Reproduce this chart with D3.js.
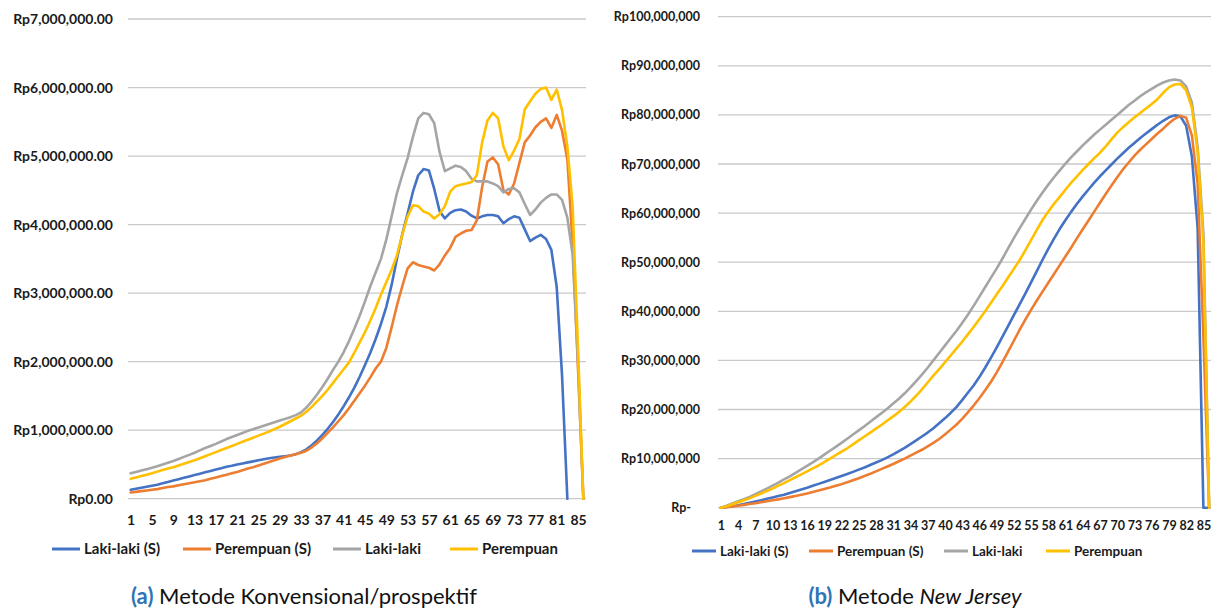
<!DOCTYPE html>
<html>
<head>
<meta charset="utf-8">
<script src="https://cdn.jsdelivr.net/npm/d3@7"></script>
<style>
  body { margin: 0; background: #ffffff; }
  svg text { font-family: Lato, "Noto Sans", sans-serif; }
</style>
</head>
<body>
<svg id="chart" width="1211" height="610"></svg>
<script>
// Usia (tahun ke-) on the category axis
const ages = d3.range(1, 87);

// Series names shown in the legend
const seriesNames = ["Laki-laki (S)", "Perempuan (S)", "Laki-laki", "Perempuan"];

// (a) Metode Konvensional/prospektif — values in millions of rupiah (null = no value)
const konvLakiS = [
  0.13,0.145,0.16,0.175,0.19,0.205,0.225,0.245,0.265,0.285,
  0.305,0.325,0.345,0.365,0.385,0.405,0.425,0.445,0.465,0.48,
  0.50,0.515,0.53,0.545,0.56,0.575,0.59,0.60,0.61,0.62,
  0.63,0.65,0.68,0.72,0.78,0.85,0.93,1.02,1.12,1.23,
  1.35,1.48,1.62,1.78,1.95,2.13,2.33,2.55,2.80,3.12,
  3.50,3.86,4.16,4.48,4.72,4.81,4.79,4.52,4.20,4.09,
  4.17,4.21,4.22,4.19,4.13,4.09,4.12,4.14,4.14,4.12,
  4.02,4.08,4.12,4.10,3.93,3.76,3.81,3.85,3.79,3.63,
  3.09,1.80,0,null,null,null
];
const konvPerempuanS = [
  0.09,0.10,0.11,0.12,0.13,0.14,0.155,0.17,0.18,0.195,
  0.21,0.225,0.24,0.255,0.27,0.29,0.31,0.33,0.35,0.37,
  0.39,0.415,0.44,0.46,0.485,0.51,0.535,0.56,0.585,0.61,
  0.63,0.65,0.67,0.70,0.75,0.81,0.88,0.96,1.04,1.13,
  1.22,1.32,1.43,1.54,1.65,1.77,1.90,2.00,2.20,2.50,
  2.82,3.10,3.36,3.45,3.41,3.39,3.37,3.33,3.42,3.55,
  3.66,3.82,3.87,3.91,3.92,4.06,4.55,4.92,4.98,4.88,
  4.50,4.44,4.60,4.90,5.20,5.30,5.42,5.50,5.55,5.41,
  5.60,5.37,4.95,3.70,1.90,0
];
const konvLaki = [
  0.37,0.39,0.41,0.43,0.45,0.475,0.50,0.525,0.55,0.58,
  0.61,0.64,0.67,0.705,0.74,0.77,0.80,0.835,0.87,0.90,
  0.93,0.96,0.99,1.015,1.04,1.065,1.09,1.115,1.14,1.165,
  1.19,1.22,1.26,1.33,1.42,1.52,1.63,1.75,1.88,2.00,
  2.14,2.30,2.48,2.67,2.88,3.10,3.30,3.50,3.78,4.12,
  4.46,4.72,4.97,5.28,5.55,5.63,5.61,5.48,5.06,4.78,
  4.82,4.86,4.84,4.78,4.67,4.63,4.63,4.63,4.60,4.56,
  4.47,4.52,4.53,4.47,4.30,4.14,4.22,4.32,4.39,4.44,
  4.44,4.36,4.10,3.55,2.00,0
];
const konvPerempuan = [
  0.29,0.31,0.33,0.35,0.37,0.395,0.42,0.44,0.46,0.485,
  0.51,0.535,0.56,0.59,0.62,0.65,0.68,0.71,0.74,0.77,
  0.80,0.83,0.86,0.89,0.92,0.95,0.98,1.015,1.05,1.09,
  1.13,1.17,1.21,1.27,1.34,1.42,1.50,1.59,1.69,1.79,
  1.89,1.99,2.13,2.28,2.43,2.60,2.78,2.98,3.16,3.34,
  3.55,3.85,4.12,4.28,4.27,4.19,4.16,4.09,4.15,4.27,
  4.48,4.56,4.58,4.60,4.62,4.72,5.20,5.52,5.63,5.55,
  5.14,4.94,5.08,5.25,5.68,5.80,5.91,5.98,6.00,5.82,
  5.97,5.67,5.14,4.25,2.20,0
];

// (b) Metode New Jersey — values in millions of rupiah
const njLakiS = [
  0,0.15,0.3,0.5,0.75,1.0,1.25,1.5,1.8,2.1,
  2.4,2.65,3.0,3.35,3.7,4.05,4.45,4.85,5.25,5.65,
  6.05,6.45,6.85,7.3,7.75,8.2,8.7,9.2,9.7,10.25,
  10.85,11.5,12.2,12.95,13.7,14.5,15.3,16.2,17.2,18.2,
  19.3,20.5,21.9,23.4,24.9,26.6,28.5,30.5,32.6,34.8,
  37.0,39.2,41.4,43.6,45.9,48.2,50.5,52.7,54.8,56.8,
  58.6,60.3,61.9,63.4,64.8,66.2,67.5,68.7,69.9,71.1,
  72.2,73.3,74.3,75.3,76.2,77.1,78.0,78.8,79.5,79.9,
  79.7,77.8,71.5,57.0,0,0
];
const njPerempuanS = [
  0,0.12,0.25,0.4,0.57,0.74,0.92,1.1,1.3,1.5,
  1.7,1.92,2.15,2.4,2.65,2.9,3.2,3.5,3.8,4.1,
  4.45,4.8,5.2,5.6,6.0,6.45,6.9,7.4,7.9,8.4,
  8.9,9.45,10.0,10.6,11.2,11.8,12.5,13.2,14.0,14.9,
  15.9,16.9,18.1,19.4,20.8,22.3,23.9,25.6,27.5,29.6,
  31.8,34.0,36.2,38.3,40.3,42.2,44.0,45.8,47.6,49.4,
  51.2,53.0,54.9,56.7,58.5,60.3,62.1,63.9,65.6,67.3,
  68.9,70.3,71.7,72.9,74.0,75.1,76.2,77.2,78.3,79.2,
  79.8,79.4,75.8,66.0,35.0,0
];
const njLaki = [
  0,0.4,0.85,1.3,1.75,2.2,2.75,3.3,3.9,4.5,
  5.1,5.75,6.4,7.1,7.8,8.5,9.25,10.0,10.8,11.6,
  12.4,13.2,14.05,14.9,15.75,16.6,17.5,18.4,19.3,20.2,
  21.2,22.2,23.3,24.5,25.8,27.1,28.5,30.0,31.5,33.0,
  34.5,36.0,37.6,39.3,41.1,43.0,44.9,46.8,48.7,50.7,
  52.8,54.9,56.9,58.8,60.7,62.5,64.2,65.8,67.3,68.7,
  70.1,71.4,72.6,73.8,74.9,76.0,77.0,78.0,79.0,80.0,
  81.0,82.0,82.9,83.8,84.6,85.3,86.0,86.6,87.0,87.2,
  87.0,85.8,82.5,73.5,56.0,0
];
const njPerempuan = [
  0,0.3,0.7,1.1,1.5,1.9,2.4,2.9,3.4,3.9,
  4.5,5.0,5.6,6.2,6.8,7.4,8.0,8.6,9.3,10.0,
  10.7,11.4,12.1,12.9,13.7,14.5,15.3,16.1,16.9,17.75,
  18.6,19.5,20.5,21.6,22.8,24.1,25.5,26.9,28.2,29.6,
  31.0,32.4,33.8,35.3,36.8,38.4,40.0,41.7,43.4,45.1,
  46.9,48.6,50.4,52.4,54.5,56.6,58.6,60.3,61.9,63.3,
  64.8,66.2,67.5,68.8,70.0,71.2,72.3,73.6,75.0,76.4,
  77.5,78.5,79.5,80.4,81.3,82.2,83.2,84.5,85.6,86.2,
  86.3,85.0,81.5,72.5,54.0,0
];

// Axis tick values
const konvTicksY = [0, 1, 2, 3, 4, 5, 6, 7];
const konvTicksX = [1, 5, 9, 13, 17, 21, 25, 29, 33, 37, 41, 45, 49, 53, 57, 61, 65, 69, 73, 77, 81, 85];
const njTicksY = [0, 10, 20, 30, 40, 50, 60, 70, 80, 90, 100];
const njTicksX = [1, 4, 7, 10, 13, 16, 19, 22, 25, 28, 31, 34, 37, 40, 43, 46, 49, 52, 55, 58, 61, 64, 67, 70, 73, 76, 79, 82, 85];

const colors = ["#4472C4", "#ED7D31", "#A5A5A5", "#FFC000"];

const svg = d3.select("#chart");

function drawPanel(cfg) {
  const g = svg.append("g");
  const x = d3.scalePoint().domain(ages).range([cfg.left, cfg.right]).padding(0.5);
  const y = d3.scaleLinear().domain([0, cfg.yMax]).range([cfg.bottom, cfg.top]);

  // horizontal gridlines (the zero line doubles as the category axis)
  g.append("g").selectAll("line").data(cfg.yTicks).join("line")
    .attr("x1", cfg.left).attr("x2", cfg.right)
    .attr("y1", d => y(d)).attr("y2", d => y(d))
    .attr("stroke", "#c9c9c9").attr("stroke-width", 1.3);

  // value axis
  const ya = g.append("g").attr("transform", `translate(${cfg.left},0)`)
    .call(d3.axisLeft(y).tickValues(cfg.yTicks).tickFormat(cfg.yFormat)
      .tickSize(0).tickPadding(cfg.yPad));
  ya.select(".domain").remove();
  ya.selectAll("text")
    .attr("font-family", "Lato, sans-serif").attr("font-weight", "700")
    .attr("font-size", cfg.yFont).attr("fill", "#1a1a1a");
  if (cfg.zeroDx) ya.selectAll("text").filter(d => d === 0).attr("dx", cfg.zeroDx);

  // category axis
  const xa = g.append("g").attr("transform", `translate(0,${cfg.bottom})`)
    .call(d3.axisBottom(x).tickValues(cfg.xTicks).tickSize(0).tickPadding(cfg.xPad));
  xa.select(".domain").remove();
  xa.selectAll("text")
    .attr("font-family", "Lato, sans-serif").attr("font-weight", "700")
    .attr("font-size", cfg.xFont).attr("fill", "#1a1a1a");

  // series lines; empty cells end the line at the last value
  const line = d3.line()
    .defined(d => d !== null)
    .x((d, i) => x(ages[i]))
    .y(d => y(d));
  cfg.series.forEach((vals, k) => {
    g.append("path").datum(vals)
      .attr("d", line)
      .attr("fill", "none")
      .attr("stroke", colors[k])
      .attr("stroke-width", 2.6)
      .attr("stroke-linejoin", "round")
      .attr("stroke-linecap", "round");
  });

  // legend
  const lg = g.append("g");
  seriesNames.forEach((name, k) => {
    const x0 = cfg.legendX[k];
    lg.append("line")
      .attr("x1", x0).attr("x2", x0 + cfg.legendSwatch)
      .attr("y1", cfg.legendY).attr("y2", cfg.legendY)
      .attr("stroke", colors[k]).attr("stroke-width", 3);
    lg.append("text")
      .attr("x", x0 + cfg.legendSwatch + cfg.legendGap).attr("y", cfg.legendY)
      .attr("dy", "0.35em")
      .attr("font-weight", "700").attr("font-size", cfg.legendFont)
      .attr("fill", "#1a1a1a")
      .text(name);
  });

  // caption
  const cap = g.append("text")
    .attr("x", cfg.captionX).attr("y", cfg.captionY)
    .attr("text-anchor", "middle")
    .attr("font-size", 22).attr("fill", "#111");
  cfg.caption.forEach(part => {
    cap.append("tspan")
      .attr("fill", part.color || "#111")
      .attr("font-weight", part.bold ? "700" : "400")
      .attr("font-style", part.italic ? "italic" : "normal")
      .text(part.text);
  });
}

const fmtKonv = d3.format(",.2f");
const fmtNJ = d3.format(",");

drawPanel({
  left: 128, right: 586, top: 19, bottom: 498.7, yMax: 7,
  yTicks: konvTicksY, xTicks: konvTicksX,
  yFormat: v => "Rp" + fmtKonv(v * 1e6),
  yPad: 15, yFont: 14, xPad: 16, xFont: 14,
  series: [konvLakiS, konvPerempuanS, konvLaki, konvPerempuan],
  legendX: [52, 183, 333, 450], legendSwatch: 28, legendGap: 4, legendY: 549, legendFont: 15,
  captionX: 304, captionY: 604,
  caption: [{ text: "(a)", color: "#2E74B5", bold: true }, { text: " Metode Konvensional/prospektif" }]
});

drawPanel({
  left: 718, right: 1212, top: 16.7, bottom: 507.7, yMax: 100,
  yTicks: njTicksY, xTicks: njTicksX,
  yFormat: v => v === 0 ? "Rp-" : "Rp" + fmtNJ(v * 1e6),
  yPad: 18, yFont: 12.5, zeroDx: -9, xPad: 13, xFont: 12.5,
  series: [njLakiS, njPerempuanS, njLaki, njPerempuan],
  legendX: [692, 809, 944, 1046], legendSwatch: 24, legendGap: 4, legendY: 551, legendFont: 13.5,
  captionX: 915, captionY: 604,
  caption: [{ text: "(b)", color: "#2E74B5", bold: true }, { text: " Metode " }, { text: "New Jersey", italic: true }]
});
</script>
</body>
</html>
